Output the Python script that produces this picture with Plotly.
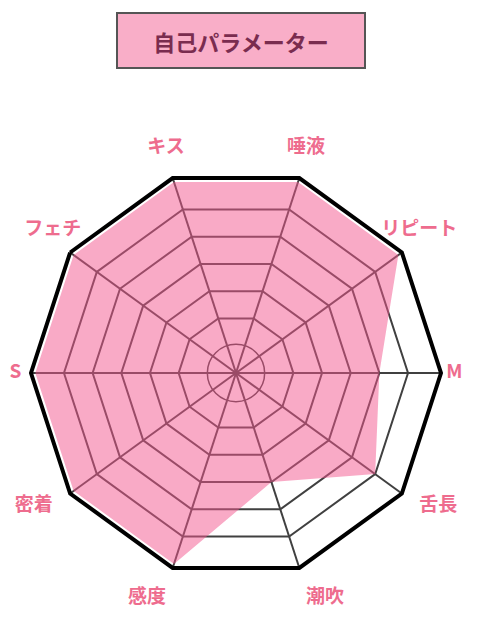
import plotly.graph_objects as go

# axis names, clockwise from the top-left
categories = ["キス", "唾液", "リピート", "M", "舌長", "潮吹", "感度", "密着", "S", "フェチ"]
values = [7, 7, 7, 5, 6, 4, 7, 7, 7, 7]
ring_levels = [2, 3, 4, 5, 6]
title_text = "自己パラメーター"

r_max = 7.15
label_r = 7.9
label_max = 7.9
R_px = 205
cx, cy = 228, 275   # centre of the chart in figure px (y from the bottom)
grid_col = "#404040"
label_col = "#ee6c8e"
label_pos = ["top center", "top center", "top center", "middle left", "middle right",
             "bottom right", "bottom left", "middle left", "middle right", "top center"]

fig = go.Figure()

# small centre ring (level 1) drawn as an open marker
fig.add_trace(go.Scatterpolar(
    r=[0.0001], theta=[categories[0]], mode="markers", cliponaxis=False,
    marker=dict(symbol="circle-open", size=2 * R_px / r_max, color=grid_col,
                line=dict(color=grid_col, width=1.5)),
    hoverinfo="skip", showlegend=False))

# the parameter polygon
fig.add_trace(go.Scatterpolar(
    r=values + values[:1], theta=categories + categories[:1],
    fill="toself", fillcolor="rgba(243,86,142,0.5)",
    mode="lines", line=dict(color="rgba(0,0,0,0)", width=0),
    showlegend=False))

# axis names, on a second (invisible) polar with a wider radial range
fig.add_trace(go.Scatterpolar(
    r=[label_r for _ in categories], theta=categories, mode="text",
    text=categories, textposition=label_pos, cliponaxis=False,
    textfont=dict(size=19, color=label_col, weight="bold"),
    hoverinfo="skip", showlegend=False, subplot="polar2"))

R2 = R_px * label_max / r_max
hidden = dict(showgrid=False, showline=False, showticklabels=False, ticks="")

fig.update_layout(
    width=480, height=640,
    margin=dict(l=0, r=0, t=0, b=0),
    paper_bgcolor="white",
    font=dict(family="Noto Sans CJK JP"),
    polar=dict(
        domain=dict(x=[(cx - R_px) / 480, (cx + R_px) / 480],
                    y=[(cy - R_px) / 640, (cy + R_px) / 640]),
        bgcolor="white",
        gridshape="linear",
        radialaxis=dict(range=[0, r_max], tickvals=ring_levels,
                        showticklabels=False, ticks="", showline=False,
                        gridcolor=grid_col, gridwidth=1.5),
        angularaxis=dict(rotation=108, direction="clockwise",
                         categoryorder="array", categoryarray=categories,
                         showline=True, linecolor="black", linewidth=4,
                         gridcolor=grid_col, gridwidth=1.5, ticks="",
                         showticklabels=False),
    ),
    polar2=dict(
        domain=dict(x=[max(0, (cx - R2) / 480), (cx + R2) / 480],
                    y=[(cy - R2) / 640, (cy + R2) / 640]),
        bgcolor="rgba(0,0,0,0)",
        radialaxis=dict(range=[0, label_max], **hidden),
        angularaxis=dict(rotation=108, direction="clockwise",
                         categoryorder="array", categoryarray=categories,
                         **hidden),
    ),
)

# title box
fig.add_annotation(
    text=title_text, xref="paper", yref="paper", x=233 / 480, y=1 - 32 / 640,
    xanchor="center", yanchor="middle",
    showarrow=False, width=244, height=51,
    bgcolor="#f9aec8", bordercolor="#555555", borderwidth=2,
    font=dict(size=22, color="#7a2c4f", weight="bold"))

fig.write_html("out.html")
